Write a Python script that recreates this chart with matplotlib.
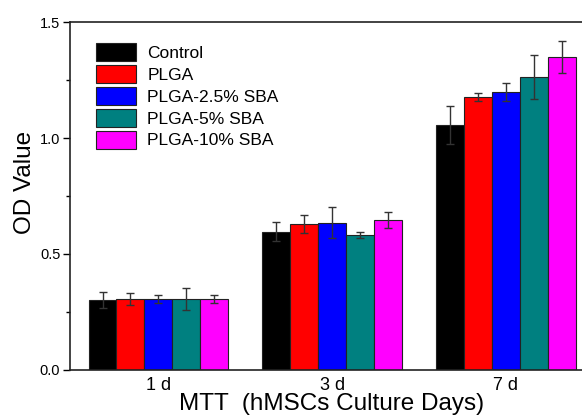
import numpy as np
import matplotlib.pyplot as plt
from matplotlib.patches import Rectangle
from matplotlib.legend_handler import HandlerPatch

plt.rcParams['font.family'] = ['Liberation Sans', 'DejaVu Sans']

days = ['1 d', '3 d', '7 d']
groups = ['Control', 'PLGA', 'PLGA-2.5% SBA', 'PLGA-5% SBA', 'PLGA-10% SBA']
colors = ['#000000', '#FF0000', '#0000FF', '#008080', '#FF00FF']

# OD values per group for 1 d, 3 d, 7 d
control = [0.302, 0.596, 1.056]
plga = [0.305, 0.629, 1.177]
plga_25 = [0.305, 0.634, 1.197]
plga_5 = [0.306, 0.583, 1.262]
plga_10 = [0.307, 0.647, 1.349]

control_err = [0.033, 0.040, 0.083]
plga_err = [0.027, 0.037, 0.017]
plga_25_err = [0.018, 0.067, 0.039]
plga_5_err = [0.046, 0.013, 0.094]
plga_10_err = [0.017, 0.035, 0.068]

values = [control, plga, plga_25, plga_5, plga_10]
errors = [control_err, plga_err, plga_25_err, plga_5_err, plga_10_err]


def tall_box(legend, orig_handle, xdescent, ydescent, width, height, fontsize):
    # legend boxes a little taller than the default so they nearly touch
    extra = 0.8
    return Rectangle((-xdescent, -ydescent - extra), width, height + 2 * extra)


fig = plt.figure(figsize=(5.82, 4.16), dpi=100)
ax = fig.add_axes([0.1203, 0.1106, 0.901, 0.8365])

x = np.arange(len(days))
w = 0.161
for i, (vals, errs) in enumerate(zip(values, errors)):
    pos = x + (i - 2) * w
    ax.bar(pos, vals, width=w, color=colors[i], edgecolor='#222222',
           linewidth=0.8, label=groups[i], zorder=2)
    ax.errorbar(pos, vals, yerr=errs, fmt='none', ecolor='#333333',
                elinewidth=1, capsize=3, capthick=1, zorder=3)

ax.set_xlim(-0.509, 2.509)
ax.set_ylim(0, 1.5)
ax.set_xticks(x)
ax.set_xticklabels(days, fontsize=13)
ax.set_yticks([0.0, 0.5, 1.0, 1.5])
ax.set_yticklabels(['0.0', '0.5', '1.0', '1.5'], fontsize=10.5)
ax.set_yticks([0.25, 0.75, 1.25], minor=True)
ax.tick_params(axis='x', length=0, pad=5)
ax.tick_params(axis='y', which='major', length=5, width=1, direction='out', pad=2)
ax.tick_params(axis='y', which='minor', length=3, width=1, direction='out')

for s in ['left', 'top', 'bottom', 'right']:
    ax.spines[s].set_linewidth(1.2)
    ax.spines[s].set_color('#222222')

ax.set_ylabel('OD Value', fontsize=17.5)
ax.yaxis.set_label_coords(-0.064, 0.54)
ax.set_xlabel('MTT  (hMSCs Culture Days)', fontsize=17.5)
ax.xaxis.set_label_coords(0.4986, -0.066)

ax.legend(loc='upper left', bbox_to_anchor=(0.0496, 0.94), frameon=False,
          fontsize=12.5, handlelength=2.3, handleheight=1.2,
          labelspacing=0.24, handletextpad=0.66, borderpad=0, borderaxespad=0,
          handler_map={Rectangle: HandlerPatch(patch_func=tall_box)})

fig.savefig('out.png', dpi=100)
